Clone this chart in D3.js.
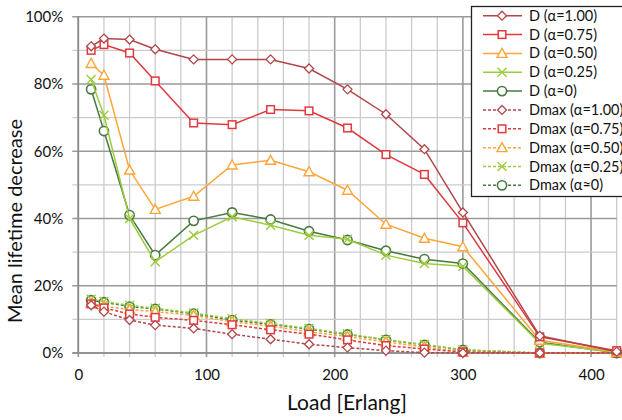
<!DOCTYPE html>
<html><head><meta charset="utf-8">
<script src="https://cdn.jsdelivr.net/npm/d3@7"></script>
<style>body{margin:0;background:#fff;} svg{display:block;font-family:Lato,"Open Sans",sans-serif;}</style>
</head><body><svg id="c" width="622" height="420"></svg>
<script>
const loads = [10,20,40,60,90,120,150,180,210,240,270,300,360,420];
const D100 = [91.2,93.5,93.2,90.3,87.3,87.3,87.3,84.6,78.4,71.0,60.6,41.8,5.1,0.4];
const D075 = [90.0,91.7,89.2,80.9,68.4,67.9,72.4,72.0,66.9,59.0,53.1,38.7,4.8,0.7];
const D050 = [86.1,82.6,54.4,42.7,46.6,55.9,57.3,53.9,48.4,38.3,34.1,31.6,3.8,0.3];
const D025 = [81.3,70.7,40.0,27.1,35.0,40.5,38.0,35.0,33.8,29.1,26.6,25.8,2.9,0.2];
const D000 = [78.4,66.0,41.0,29.1,39.3,41.8,39.7,36.2,33.6,30.4,27.9,26.6,3.2,0.1];
const Dmax100 = [14.2,12.3,9.8,8.3,7.3,5.6,4.1,2.6,1.6,0.7,0.1,0,0,0];
const Dmax075 = [14.6,13.4,11.6,10.6,9.7,8.4,6.9,5.6,3.9,2.2,1.2,0.3,0,0];
const Dmax050 = [14.8,13.9,12.9,12.3,11.2,9.3,8.0,6.3,4.9,3.3,1.8,0.3,0,0];
const Dmax025 = [16.0,15.3,14.2,13.3,11.9,10.2,8.8,7.3,5.7,4.0,2.5,1.0,0,0];
const Dmax000 = [15.7,15.1,13.8,13.1,11.7,9.8,8.5,7.1,5.5,3.9,2.4,0.9,0,0];
const seriesNames = ["D (α=1.00)","D (α=0.75)","D (α=0.50)","D (α=0.25)","D (α≈0)",
  "Dmax (α=1.00)","Dmax (α=0.75)","Dmax (α=0.50)","Dmax (α=0.25)","Dmax (α≈0)"];
const xTicks = [0,100,200,300,400];
const yTicks = [0,20,40,60,80,100];

const colors = ["#b0464a","#e0393e","#fca63a","#9ccb3c","#467a42"];
const markers = ["diamond","square","triangle","cross","circle"];
const allData = [D100,D075,D050,D025,D000,Dmax100,Dmax075,Dmax050,Dmax025,Dmax000];
const series = allData.map((v,i)=>({name:seriesNames[i], values:v, color:colors[i%5], marker:markers[i%5], dashed:i>=5}));

const svg = d3.select("#c");
const x = d3.scaleLinear().domain([0,420]).range([78.3,616.7]);
const y = d3.scaleLinear().domain([0,100]).range([353,16.7]);

const g = svg.append("g");
const xMinor = d3.range(0,421,20);
const yMinor = d3.range(0,101,10);
g.selectAll(".vm").data(xMinor).join("line")
  .attr("x1",d=>x(d)).attr("x2",d=>x(d)).attr("y1",y(100)).attr("y2",y(0)+4)
  .attr("stroke",d=>d%100===0?"#9a9a9a":"#cbcbcb").attr("stroke-width",d=>d%100===0?1.6:1.3);
g.selectAll(".hm").data(yMinor).join("line")
  .attr("x1",x(0)-6).attr("x2",x(420)).attr("y1",d=>y(d)).attr("y2",d=>y(d))
  .attr("stroke",d=>d%20===0?"#9a9a9a":"#cbcbcb").attr("stroke-width",d=>d%20===0?1.6:1.3);
g.append("line").attr("x1",x(0)).attr("x2",x(0)).attr("y1",y(100)).attr("y2",y(0)).attr("stroke","#8a8a8a").attr("stroke-width",1.6);
g.append("line").attr("x1",x(0)-6).attr("x2",x(420)).attr("y1",y(0)).attr("y2",y(0)).attr("stroke","#8a8a8a").attr("stroke-width",1.6);

const xAxis = d3.axisBottom(x).tickValues(xTicks).tickSize(0).tickPadding(16).tickFormat(d3.format("d"));
const xa = svg.append("g").attr("transform",`translate(0,${y(0)})`).call(xAxis);
xa.select(".domain").remove();
xa.selectAll("text").attr("font-size",15).attr("fill","#111").attr("font-family","Lato,sans-serif");
const yAxis = d3.axisLeft(y).tickValues(yTicks).tickSize(0).tickPadding(9).tickFormat(d=>d+"%");
const ya = svg.append("g").attr("transform",`translate(${x(0)-6},0)`).call(yAxis);
ya.select(".domain").remove();
ya.selectAll("text").attr("font-size",15).attr("fill","#111").attr("font-family","Lato,sans-serif");

svg.append("text").attr("x",347).attr("y",410).attr("text-anchor","middle").attr("font-size",21).attr("fill","#111").text("Load [Erlang]");
svg.append("text").attr("transform","translate(22,221) rotate(-90)").attr("text-anchor","middle").attr("font-size",20).attr("fill","#111").text("Mean lifetime decrease");

function drawMarker(sel, type, color, cx, cy){
  if(type==="diamond"){
    sel.append("path").attr("d",`M${cx},${cy-4.5}L${cx+4.5},${cy}L${cx},${cy+4.5}L${cx-4.5},${cy}Z`).attr("fill","#fff").attr("stroke",color).attr("stroke-width",1.3);
  } else if(type==="square"){
    sel.append("rect").attr("x",cx-3.8).attr("y",cy-3.8).attr("width",7.6).attr("height",7.6).attr("fill","#fff").attr("stroke",color).attr("stroke-width",1.5);
  } else if(type==="triangle"){
    sel.append("path").attr("d",`M${cx},${cy-5}L${cx+5},${cy+4}L${cx-5},${cy+4}Z`).attr("fill","#fff").attr("stroke",color).attr("stroke-width",1.4);
  } else if(type==="cross"){
    sel.append("path").attr("d",`M${cx-4.5},${cy-4.5}L${cx+4.5},${cy+4.5}M${cx+4.5},${cy-4.5}L${cx-4.5},${cy+4.5}`).attr("stroke",color).attr("stroke-width",1.4);
  } else {
    sel.append("circle").attr("cx",cx).attr("cy",cy).attr("r",4.6).attr("fill","#fff").attr("stroke",color).attr("stroke-width",1.6);
  }
}

const line = d3.line().x((d,i)=>x(loads[i])).y(d=>y(d));
const order = [9,8,7,6,5,4,3,2,1,0];
order.forEach(i=>{
  const s = series[i];
  const sg = svg.append("g");
  sg.append("path").attr("d",line(s.values)).attr("fill","none").attr("stroke",s.color)
    .attr("stroke-width",1.5).attr("stroke-dasharray",s.dashed?"3,2":null);
  s.values.forEach((v,j)=>drawMarker(sg,s.marker,s.color,x(loads[j]),y(v)));
});

const lg = svg.append("g");
lg.append("rect").attr("x",471.5).attr("y",6.5).attr("width",160).attr("height",190).attr("fill","#fff").attr("stroke","#222").attr("stroke-width",1.3);
series.forEach((s,i)=>{
  const cy = 15.7 + i*18.85;
  lg.append("line").attr("x1",483).attr("x2",522).attr("y1",cy).attr("y2",cy).attr("stroke",s.color).attr("stroke-width",1.5).attr("stroke-dasharray",s.dashed?"3,2":null);
  drawMarker(lg,s.marker,s.color,502,cy);
  lg.append("text").attr("x",529).attr("y",cy+5).attr("font-size",14.5).attr("fill","#111").text(s.name);
});
</script></body></html>
